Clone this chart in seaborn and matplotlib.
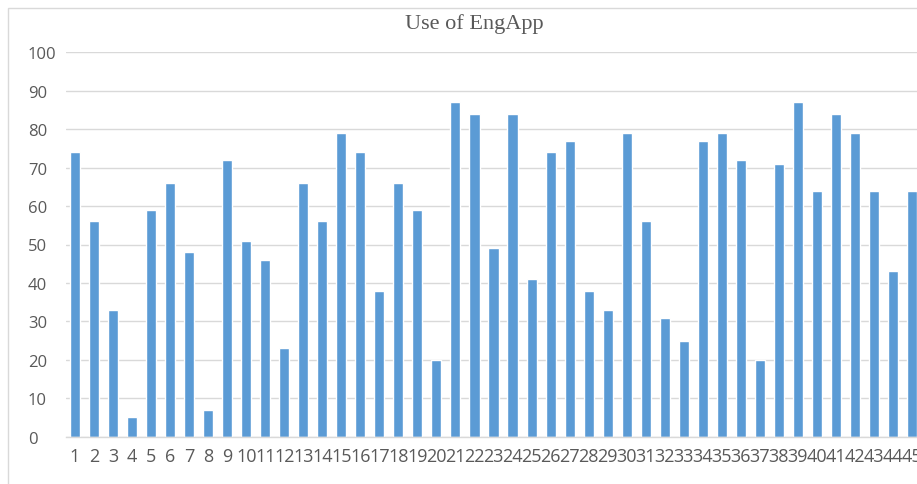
import matplotlib
matplotlib.use("Agg")
import matplotlib.pyplot as plt
from matplotlib.patches import Rectangle
import seaborn as sns
import pandas as pd

title = "Use of EngApp"
categories = [str(i) for i in range(1, 46)]
values = [74, 56, 33, 5, 59, 66, 48, 7, 72, 51,
          46, 23, 66, 56, 79, 74, 38, 66, 59, 20,
          87, 84, 49, 84, 41, 74, 77, 38, 33, 79,
          56, 31, 25, 77, 79, 72, 20, 71, 87, 64,
          84, 79, 64, 43, 64]
yticks = [0, 10, 20, 30, 40, 50, 60, 70, 80, 90, 100]

df = pd.DataFrame({"cat": categories, "val": values})

sns.set_theme(style="white")
plt.rcParams["font.family"] = ["Open Sans", "DejaVu Sans"]

W, H = 917, 485
fig = plt.figure(figsize=(W / 100, H / 100), dpi=100)
fig.patch.set_facecolor("white")

ax = fig.add_axes([65.5 / W, (H - 437.7) / H, 856 / W, 384.4 / H])
sns.barplot(data=df, x="cat", y="val", order=categories, color="#5B9BD5",
            saturation=1, width=0.53, ax=ax)

ax.set_xlim(-0.5, 44.5)
ax.set_ylim(0, 100)
ax.set_yticks(yticks)
ax.set_yticklabels([str(t) for t in yticks])
ax.set_xlabel("")
ax.set_ylabel("")
ax.set_axisbelow(True)
ax.yaxis.grid(True, color="#D9D9D9", linewidth=1)
ax.xaxis.grid(False)
for s in ["top", "right", "left"]:
    ax.spines[s].set_visible(False)
ax.spines["bottom"].set_color("#D9D9D9")
ax.spines["bottom"].set_linewidth(1)
ax.tick_params(axis="both", length=0, labelcolor="#595959")
ax.tick_params(axis="x", pad=7.5, labelsize=13)
ax.tick_params(axis="y", pad=27, labelsize=12)
for lab in ax.get_yticklabels():
    lab.set_horizontalalignment("left")

fig.text(474 / W, (H - 29) / H, title, ha="center", va="baseline",
         fontsize=16, color="#595959", family=["Liberation Serif", "DejaVu Serif"])

fig.add_artist(Rectangle((8 / W, -0.1), 1.2, (H - 9) / H + 0.1,
                         transform=fig.transFigure, fill=False,
                         edgecolor="#D9D9D9", linewidth=1))

fig.savefig("out.png", dpi=100, facecolor="white")
